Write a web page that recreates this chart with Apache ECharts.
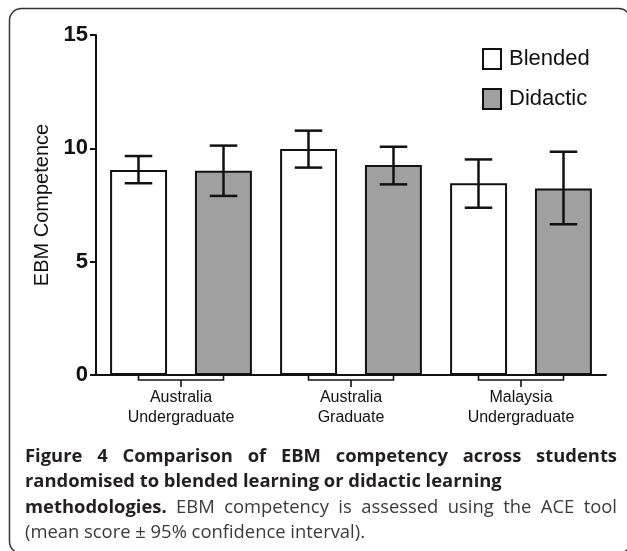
<!DOCTYPE html>
<html>
<head>
<meta charset="utf-8">
<script src="https://cdn.jsdelivr.net/npm/echarts@6/dist/echarts.min.js"></script>
<style>
  html, body { margin: 0; padding: 0; background: #fff; }
  #chart { width: 627px; height: 551px; }
</style>
</head>
<body>
<div id="chart"></div>
<script>
// ---- data ----
const categories = ['Australia\nUndergraduate', 'Australia\nGraduate', 'Malaysia\nUndergraduate'];
const seriesNames = ['Blended', 'Didactic'];
const blendedMean = [9.04, 9.97, 8.46];
const blendedLow = [8.46, 9.15, 7.38];
const blendedHigh = [9.66, 10.78, 9.51];
const didacticMean = [9.01, 9.26, 8.23];
const didacticLow = [7.90, 8.41, 6.65];
const didacticHigh = [10.12, 10.07, 9.85];
const yAxisTitle = 'EBM Competence';
const captionBold1 = 'Figure 4 Comparison of EBM competency across students';
const captionBold2 = 'randomised to blended learning or didactic learning';
const captionBold3 = 'methodologies.';
const captionReg3 = 'EBM competency is assessed using the ACE tool';
const captionReg4 = '(mean score \u00b1 95% confidence interval).';

const FONT = '"Liberation Sans", Arial, sans-serif';
const CAPFONT = '"Open Sans", "Noto Sans", sans-serif';
const CAPSIZE = 18.4;
const CAPLH = 25.5;
const CAPWIDTH = 592;

// --- caption helpers (justified lines like the journal layout) ---
const mctx = document.createElement('canvas').getContext('2d');
function measure(t, weight) {
  mctx.font = weight + ' ' + CAPSIZE + 'px ' + CAPFONT;
  return mctx.measureText(t).width;
}
function justifiedLine(words, spName) { // words: [{t, w:'b'|'r'}]
  let total = 0;
  words.forEach(o => { total += measure(o.t, o.w === 'b' ? 'bold' : 'normal'); });
  const gap = (CAPWIDTH - total) / (words.length - 1);
  return { str: words.map(o => '{' + o.w + '|' + o.t + '}').join('{' + spName + '| }'), gap: gap };
}
const j1 = justifiedLine(captionBold1.split(' ').map(t => ({ t, w: 'b' })), 'sp1');
const j3 = justifiedLine([{ t: captionBold3, w: 'b' }].concat(captionReg3.split(' ').map(t => ({ t, w: 'r' }))), 'sp3');

function errData(low, high) {
  return categories.map((c, i) => [i, low[i], high[i]]);
}

function makeErrRender(sign) {
  return function (params, api) {
    const xi = api.value(0);
    const bw = api.size([1, 0])[0];
    const off = sign * bw * 0.25;
    const cap = bw * 0.081;
    const lo = api.coord([xi, api.value(1)]);
    const hi = api.coord([xi, api.value(2)]);
    const x = lo[0] + off;
    const st = { stroke: '#111', lineWidth: 2.5, fill: 'none' };
    return {
      type: 'group',
      children: [
        { type: 'line', shape: { x1: x, y1: lo[1], x2: x, y2: hi[1] }, style: st },
        { type: 'line', shape: { x1: x - cap, y1: lo[1], x2: x + cap, y2: lo[1] }, style: st },
        { type: 'line', shape: { x1: x - cap, y1: hi[1], x2: x + cap, y2: hi[1] }, style: st }
      ]
    };
  };
}

function bracketRender(params, api) {
  const xi = api.value(0);
  const bw = api.size([1, 0])[0];
  const c = api.coord([xi, 0]);
  const half = bw * 0.25;
  const y0 = c[1] + 1;
  const st = { stroke: '#111', lineWidth: 1.6, fill: 'none' };
  return {
    type: 'group',
    children: [
      { type: 'polyline', shape: { points: [[c[0] - half, y0], [c[0] - half, y0 + 4], [c[0] + half, y0 + 4], [c[0] + half, y0]] }, style: st },
      { type: 'line', shape: { x1: c[0], y1: y0 + 4, x2: c[0], y2: y0 + 11 }, style: st }
    ]
  };
}

function capStyle(weight, fill) {
  return { fontFamily: CAPFONT, fontSize: CAPSIZE, fontWeight: weight, fill: fill, lineHeight: CAPLH };
}

const chart = echarts.init(document.getElementById('chart'), null, { renderer: 'canvas' });
chart.setOption({
  animation: false,
  backgroundColor: '#fff',
  grid: { left: 96, right: 21, top: 35, bottom: 176, containLabel: false },
  legend: {
    data: seriesNames,
    orient: 'vertical',
    left: 482,
    top: 48,
    padding: 0,
    itemWidth: 18,
    itemHeight: 20,
    itemGap: 18,
    icon: 'rect',
    itemStyle: { borderColor: '#111', borderWidth: 2 },
    textStyle: { fontFamily: FONT, fontSize: 22, color: '#111', lineHeight: 20, padding: [0, 0, 0, 3] }
  },
  xAxis: {
    type: 'category',
    data: categories,
    axisLine: { lineStyle: { color: '#111', width: 2 } },
    axisTick: { show: false },
    axisLabel: { fontFamily: FONT, fontSize: 16, color: '#111', lineHeight: 20, margin: 13, interval: 0 }
  },
  yAxis: {
    type: 'value',
    min: 0,
    max: 15,
    interval: 5,
    name: yAxisTitle,
    nameLocation: 'middle',
    nameGap: 34,
    nameTextStyle: { fontFamily: FONT, fontSize: 20, color: '#111' },
    splitLine: { show: false },
    axisLine: { show: true, lineStyle: { color: '#111', width: 2 } },
    axisTick: { show: true, length: 6, lineStyle: { color: '#111', width: 2 } },
    axisLabel: { fontFamily: FONT, fontSize: 22, fontWeight: 'bold', color: '#111', margin: 8 }
  },
  graphic: [
    {
      type: 'rect', silent: true, z: -10,
      shape: { x: 9.5, y: 8.5, width: 621, height: 545, r: 12 },
      style: { fill: 'none', stroke: '#333', lineWidth: 1.5 }
    },
    {
      type: 'text', silent: true,
      x: 25, y: 444,
      style: {
        text: j1.str + '\n{b|' + captionBold2 + '}\n' + j3.str + '\n{r|' + captionReg4 + '}',
        rich: {
          b: capStyle('bold', '#231f20'),
          r: capStyle('normal', '#3a3a3a'),
          sp1: Object.assign(capStyle('normal', '#3a3a3a'), { width: j1.gap }),
          sp3: Object.assign(capStyle('normal', '#3a3a3a'), { width: j3.gap })
        }
      }
    }
  ],
  series: [
    {
      name: 'Blended', type: 'bar', data: blendedMean,
      barWidth: '33.5%', barGap: '49%',
      itemStyle: { color: '#ffffff', borderColor: '#111', borderWidth: 2 }
    },
    {
      name: 'Didactic', type: 'bar', data: didacticMean,
      barWidth: '33.5%', barGap: '49%',
      itemStyle: { color: '#a0a0a0', borderColor: '#111', borderWidth: 2 }
    },
    {
      type: 'custom', name: 'Blended CI', data: errData(blendedLow, blendedHigh),
      renderItem: makeErrRender(-1), encode: { x: 0, y: [1, 2] }, z: 5, silent: true
    },
    {
      type: 'custom', name: 'Didactic CI', data: errData(didacticLow, didacticHigh),
      renderItem: makeErrRender(1), encode: { x: 0, y: [1, 2] }, z: 5, silent: true
    },
    {
      type: 'custom', name: 'brackets', data: categories.map((c, i) => [i, 0]),
      renderItem: bracketRender, encode: { x: 0, y: 1 }, z: 5, silent: true, clip: false
    }
  ]
});
</script>
</body>
</html>
